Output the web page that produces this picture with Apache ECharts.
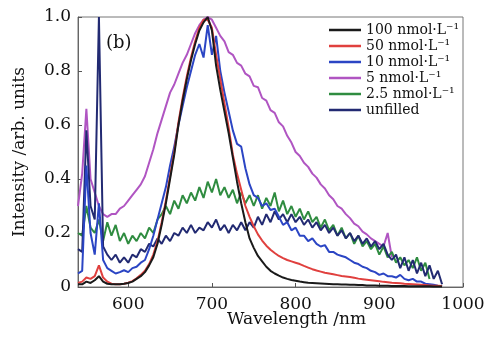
<!DOCTYPE html>
<html><head><meta charset="utf-8">
<script src="https://cdn.jsdelivr.net/npm/echarts@6/dist/echarts.min.js"></script>
<style>html,body{margin:0;padding:0;background:#fff}#c{width:499px;height:337px}</style>
</head><body><div id="c"></div>
<script>
const wl = [540,545,550,555,560,565,570,575,580,585,590,595,600,605,610,615,620,625,630,635,640,645,650,655,660,665,670,675,680,685,690,695,700,705,710,715,720,725,730,735,740,745,750,755,760,765,770,775,780,785,790,795,800,805,810,815,820,825,830,835,840,845,850,855,860,865,870,875,880,885,890,895,900,905,910,915,920,925,930,935,940,945,950,955,960,965,970,975];
const black = [0.01, 0.01,0.02,0.015,0.025,0.04,0.02,0.012,0.01,0.01,0.01, 0.012,0.015,0.02,0.03,0.04,0.055,0.08,0.11,0.16,0.23, 0.31,0.4,0.49,0.6,0.69,0.77,0.84,0.9,0.95,0.98, 1.0,0.95,0.82,0.73,0.65,0.57,0.48,0.39,0.31,0.24, 0.18,0.145,0.115,0.095,0.075,0.06,0.05,0.042,0.035,0.03, 0.026,0.023,0.02,0.018,0.016,0.015,0.014,0.013,0.012,0.011, 0.01,0.01,0.009,0.009,0.008,0.008,0.007,0.007,0.006,0.006, 0.006,0.005,0.005,0.005,0.004,0.004,0.004,0.004,0.003,0.003, 0.003,0.003,0.003,0.003,0.002,0.002,0.002];
const red = [0.015, 0.02,0.035,0.03,0.04,0.08,0.035,0.02,0.012,0.01,0.01, 0.012,0.016,0.022,0.032,0.045,0.06,0.085,0.12,0.17,0.24, 0.32,0.41,0.5,0.61,0.7,0.78,0.85,0.91,0.96,0.99, 0.99,0.96,0.86,0.77,0.68,0.59,0.49,0.42,0.36,0.3, 0.26,0.225,0.195,0.172,0.153,0.138,0.126,0.115,0.107,0.1, 0.095,0.09,0.085,0.078,0.072,0.066,0.061,0.057,0.053,0.05, 0.047,0.044,0.041,0.039,0.037,0.034,0.031,0.029,0.027,0.025, 0.023,0.021,0.019,0.018,0.016,0.015,0.014,0.012,0.011,0.01, 0.009,0.008,0.007,0.006,0.005,0.005,0.004];
const blue = [0.05, 0.06,0.45,0.2,0.12,0.31,0.1,0.07,0.06,0.05,0.055, 0.062,0.055,0.07,0.075,0.09,0.1,0.14,0.19,0.25,0.31, 0.37,0.45,0.52,0.6,0.67,0.74,0.8,0.86,0.9,0.85, 0.97,0.86,0.93,0.8,0.72,0.65,0.58,0.53,0.52,0.44, 0.38,0.34,0.33,0.3,0.31,0.285,0.29,0.26,0.23,0.24, 0.21,0.22,0.19,0.19,0.17,0.18,0.16,0.15,0.155,0.13, 0.13,0.12,0.115,0.11,0.1,0.09,0.085,0.075,0.07,0.06, 0.055,0.045,0.05,0.04,0.04,0.035,0.045,0.03,0.025,0.03, 0.02,0.02,0.012,0.01,0.008,0.005,0.004];
const purple = [0.3, 0.42,0.66,0.4,0.35,0.3,0.27,0.26,0.27,0.27,0.29, 0.3,0.32,0.34,0.36,0.38,0.41,0.46,0.51,0.57,0.62, 0.67,0.72,0.75,0.79,0.83,0.86,0.9,0.94,0.97,0.99, 1.0,0.99,0.96,0.93,0.91,0.87,0.86,0.83,0.82,0.79, 0.78,0.745,0.74,0.7,0.69,0.655,0.645,0.61,0.595,0.56, 0.535,0.5,0.485,0.46,0.445,0.42,0.405,0.38,0.365,0.34, 0.325,0.3,0.29,0.27,0.255,0.235,0.225,0.205,0.195,0.18, 0.17,0.16,0.15,0.2,0.11];
const green = [0.2, 0.19,0.3,0.22,0.2,0.25,0.17,0.24,0.19,0.23,0.17, 0.2,0.16,0.19,0.17,0.2,0.18,0.22,0.2,0.25,0.27, 0.3,0.27,0.32,0.29,0.34,0.31,0.35,0.32,0.37,0.33, 0.39,0.35,0.4,0.34,0.37,0.33,0.36,0.31,0.35,0.31, 0.34,0.3,0.34,0.29,0.33,0.3,0.35,0.28,0.32,0.27, 0.3,0.26,0.29,0.25,0.28,0.24,0.26,0.22,0.25,0.21, 0.23,0.19,0.22,0.18,0.2,0.16,0.19,0.15,0.17,0.14, 0.16,0.12,0.15,0.11,0.13,0.09,0.11,0.08,0.1,0.07, 0.11,0.06,0.09,0.03];
const navy = [0.14, 0.13,0.58,0.3,0.25,1.0,0.15,0.12,0.1,0.12,0.09, 0.11,0.09,0.12,0.11,0.14,0.13,0.16,0.15,0.18,0.16, 0.19,0.17,0.2,0.19,0.22,0.2,0.23,0.2,0.22,0.21, 0.24,0.22,0.25,0.21,0.23,0.2,0.23,0.21,0.24,0.21, 0.24,0.22,0.26,0.23,0.27,0.24,0.28,0.25,0.27,0.24, 0.27,0.24,0.26,0.23,0.25,0.22,0.24,0.21,0.23,0.2, 0.22,0.19,0.21,0.18,0.2,0.17,0.19,0.16,0.18,0.15, 0.17,0.14,0.16,0.12,0.1,0.12,0.07,0.11,0.06,0.1, 0.05,0.09,0.04,0.08,0.03,0.06,0.01];
const names = ['100 nmol\u00b7L\u207b\u00b9','50 nmol\u00b7L\u207b\u00b9','10 nmol\u00b7L\u207b\u00b9','5 nmol\u00b7L\u207b\u00b9','2.5 nmol\u00b7L\u207b\u00b9','unfilled'];
const xTicks = [600,700,800,900,1000];

const FONT = 'DejaVu Serif';
function pairs(arr){ return arr.map((v,i)=>[wl[i],v]); }
const defs = [
  {name:names[0], data:black, color:'#1a1a1a', z:7},
  {name:names[1], data:red, color:'#e0403e', z:6},
  {name:names[2], data:blue, color:'#2b45c4', z:5},
  {name:names[3], data:purple, color:'#b055c2', z:2},
  {name:names[4], data:green, color:'#2f8c40', z:3},
  {name:names[5], data:navy, color:'#222a72', z:4}
];
const chart = echarts.init(document.getElementById('c'), null, {renderer:'canvas'});
chart.setOption({
  backgroundColor:'#fff',
  animation:false,
  grid:{left:78, right:36, top:17, bottom:50, show:true, borderColor:'#777', borderWidth:1},
  legend:{
    orient:'vertical', left:329, top:23, itemWidth:32, itemHeight:2.5, itemGap:2, padding:0,
    icon:'rect',
    data:names,
    textStyle:{fontFamily:FONT, fontSize:14, lineHeight:14, color:'#111'}
  },
  xAxis:{
    type:'value', min:540, max:1000,
    axisLine:{show:true, lineStyle:{color:'#666'}},
    axisTick:{show:true, inside:true, length:4, customValues:xTicks, lineStyle:{color:'#555'}},
    splitLine:{show:false},
    axisLabel:{customValues:xTicks, showMaxLabel:true, showMinLabel:true, margin:9, fontFamily:FONT, fontSize:17, color:'#111', formatter:v=>String(v)}
  },
  yAxis:{
    type:'value', min:0, max:1, interval:0.2,
    name:'Intensity /arb. units', nameLocation:'middle', nameGap:50,
    nameTextStyle:{fontFamily:FONT, fontSize:17, color:'#111'},
    axisLine:{show:true, lineStyle:{color:'#666'}},
    axisTick:{show:true, inside:true, length:4, lineStyle:{color:'#555'}},
    splitLine:{show:false},
    axisLabel:{margin:7, fontFamily:FONT, fontSize:17, color:'#111', formatter:v=>v===0?'0':v.toFixed(1)}
  },
  graphic:[
    {type:'text', left:227, top:311, style:{text:'Wavelength /nm', font:'17px "DejaVu Serif"', fill:'#111'}},
    {type:'text', left:106, top:34, style:{text:'(b)', font:'18px "DejaVu Serif"', fill:'#111'}}
  ],
  series: defs.map(d=>({
    name:d.name, type:'line', data:pairs(d.data), symbol:'none', z:d.z,
    lineStyle:{width:2, color:d.color}, itemStyle:{color:d.color}
  }))
});
</script></body></html>
